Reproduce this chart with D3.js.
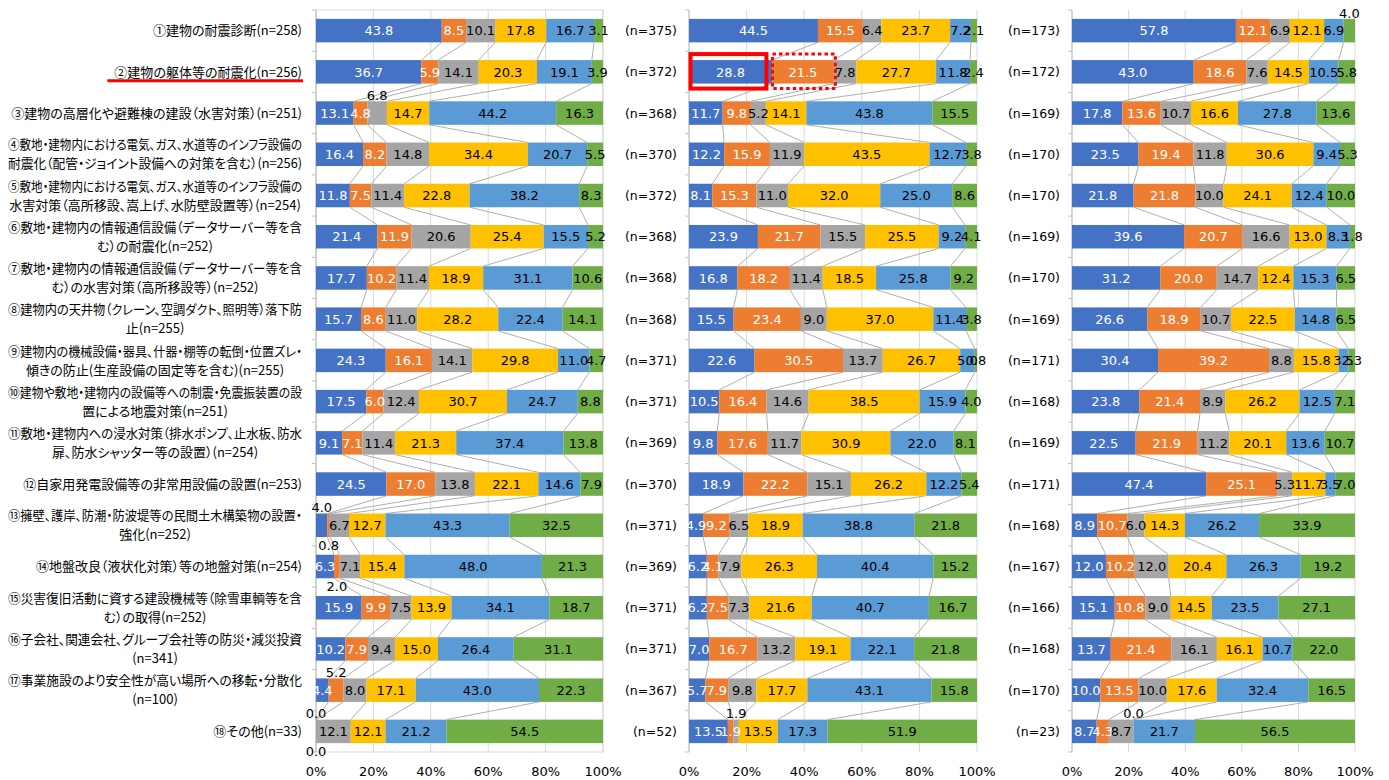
<!DOCTYPE html>
<html>
<head>
<meta charset="utf-8">
<script src="https://cdn.jsdelivr.net/npm/d3@7"></script>
<style>
    body { margin: 0; background: #fff; }
    svg text { font-family: "DejaVu Sans", "Noto Sans CJK JP", sans-serif; }
    .catLabel, .nLabel { font-family: "Noto Sans CJK JP", sans-serif; font-size: 13px; font-feature-settings: "palt"; fill: #000; }
    .nLabel { font-family: "DejaVu Sans", sans-serif; font-size: 12.5px; }
    .barLabel { font-size: 13px; }
    .tickLabel { font-size: 13px; fill: #000; }
</style>
</head>
<body>
<svg id="chart" width="1389" height="780"></svg>
<script>

// category labels (left of first panel), already wrapped as in the original
const categories = [
    ["①建物の耐震診断(n=258)"],
    ["②建物の躯体等の耐震化(n=256)"],
    ["③建物の高層化や避難棟の建設（水害対策）(n=251)"],
    ["④敷地・建物内における電気、ガス、水道等のインフラ設備の", "耐震化（配管・ジョイント設備への対策を含む）(n=256)"],
    ["⑤敷地・建物内における電気、ガス、水道等のインフラ設備の", "水害対策（高所移設、嵩上げ、水防壁設置等）(n=254)"],
    ["⑥敷地・建物内の情報通信設備（データサーバー等を含", "む）の耐震化(n=252)"],
    ["⑦敷地・建物内の情報通信設備（データサーバー等を含", "む）の水害対策（高所移設等）(n=252)"],
    ["⑧建物内の天井物（クレーン、空調ダクト、照明等）落下防", "止(n=255)"],
    ["⑨建物内の機械設備・器具、什器・棚等の転倒・位置ズレ・", "傾きの防止(生産設備の固定等を含む)(n=255)"],
    ["⑩建物や敷地・建物内の設備等への制震・免震振装置の設", "置による地震対策(n=251)"],
    ["⑪敷地・建物内への浸水対策（排水ポンプ、止水板、防水", "扉、防水シャッター等の設置）(n=254)"],
    ["⑫自家用発電設備等の非常用設備の設置(n=253)"],
    ["⑬擁壁、護岸、防潮・防波堤等の民間土木構築物の設置・", "強化(n=252)"],
    ["⑭地盤改良（液状化対策）等の地盤対策(n=254)"],
    ["⑮災害復旧活動に資する建設機械等（除雪車輌等を含", "む）の取得(n=252)"],
    ["⑯子会社、関連会社、グループ会社等の防災・減災投資", "(n=341)"],
    ["⑰事業施設のより安全性が高い場所への移転・分散化", "(n=100)"],
    ["⑱その他(n=33)"]
];

const nPanel2 = [375, 372, 368, 370, 372, 368, 368, 368, 371, 371, 369, 370, 371, 369, 371, 371, 367, 52];
const nPanel3 = [173, 172, 169, 170, 170, 169, 170, 169, 171, 168, 169, 171, 168, 167, 166, 168, 170, 23];

// six answer shares (%) per row
const panel1Values = [
    [43.8, 8.5, 10.1, 17.8, 16.7, 3.1],
    [36.7, 5.9, 14.1, 20.3, 19.1, 3.9],
    [13.1, 4.8, 6.8, 14.7, 44.2, 16.3],
    [16.4, 8.2, 14.8, 34.4, 20.7, 5.5],
    [11.8, 7.5, 11.4, 22.8, 38.2, 8.3],
    [21.4, 11.9, 20.6, 25.4, 15.5, 5.2],
    [17.7, 10.2, 11.4, 18.9, 31.1, 10.6],
    [15.7, 8.6, 11.0, 28.2, 22.4, 14.1],
    [24.3, 16.1, 14.1, 29.8, 11.0, 4.7],
    [17.5, 6.0, 12.4, 30.7, 24.7, 8.8],
    [9.1, 7.1, 11.4, 21.3, 37.4, 13.8],
    [24.5, 17.0, 13.8, 22.1, 14.6, 7.9],
    [4.0, 0.8, 6.7, 12.7, 43.3, 32.5],
    [6.3, 2.0, 7.1, 15.4, 48.0, 21.3],
    [15.9, 9.9, 7.5, 13.9, 34.1, 18.7],
    [10.2, 7.9, 9.4, 15.0, 26.4, 31.1],
    [4.4, 5.2, 8.0, 17.1, 43.0, 22.3],
    [0.0, 0.0, 12.1, 12.1, 21.2, 54.5]
];

const panel2Values = [
    [44.5, 15.5, 6.4, 23.7, 7.2, 2.1],
    [28.8, 21.5, 7.8, 27.7, 11.8, 2.4],
    [11.7, 9.8, 5.2, 14.1, 43.8, 15.5],
    [12.2, 15.9, 11.9, 43.5, 12.7, 3.8],
    [8.1, 15.3, 11.0, 32.0, 25.0, 8.6],
    [23.9, 21.7, 15.5, 25.5, 9.2, 4.1],
    [16.8, 18.2, 11.4, 18.5, 25.8, 9.2],
    [15.5, 23.4, 9.0, 37.0, 11.4, 3.8],
    [22.6, 30.5, 13.7, 26.7, 5.0, 0.8],
    [10.5, 16.4, 14.6, 38.5, 15.9, 4.0],
    [9.8, 17.6, 11.7, 30.9, 22.0, 8.1],
    [18.9, 22.2, 15.1, 26.2, 12.2, 5.4],
    [4.9, 9.2, 6.5, 18.9, 38.8, 21.8],
    [6.2, 4.1, 7.9, 26.3, 40.4, 15.2],
    [6.2, 7.5, 7.3, 21.6, 40.7, 16.7],
    [7.0, 16.7, 13.2, 19.1, 22.1, 21.8],
    [5.7, 7.9, 9.8, 17.7, 43.1, 15.8],
    [13.5, 1.9, 1.9, 13.5, 17.3, 51.9]
];

const panel3Values = [
    [57.8, 12.1, 6.9, 12.1, 6.9, 4.0],
    [43.0, 18.6, 7.6, 14.5, 10.5, 5.8],
    [17.8, 13.6, 10.7, 16.6, 27.8, 13.6],
    [23.5, 19.4, 11.8, 30.6, 9.4, 5.3],
    [21.8, 21.8, 10.0, 24.1, 12.4, 10.0],
    [39.6, 20.7, 16.6, 13.0, 8.3, 1.8],
    [31.2, 20.0, 14.7, 12.4, 15.3, 6.5],
    [26.6, 18.9, 10.7, 22.5, 14.8, 6.5],
    [30.4, 39.2, 8.8, 15.8, 3.5, 2.3],
    [23.8, 21.4, 8.9, 26.2, 12.5, 7.1],
    [22.5, 21.9, 11.2, 20.1, 13.6, 10.7],
    [47.4, 25.1, 5.3, 11.7, 3.5, 7.0],
    [8.9, 10.7, 6.0, 14.3, 26.2, 33.9],
    [12.0, 10.2, 12.0, 20.4, 26.3, 19.2],
    [15.1, 10.8, 9.0, 14.5, 23.5, 27.1],
    [13.7, 21.4, 16.1, 16.1, 10.7, 22.0],
    [10.0, 13.5, 10.0, 17.6, 32.4, 16.5],
    [8.7, 4.3, 8.7, 0.0, 21.7, 56.5]
];

const seriesKeys = [0, 1, 2, 3, 4, 5];
const xTicks = [0, 0.2, 0.4, 0.6, 0.8, 1];

// labels that were moved outside the bar in the original (panel, row, series)
const labelsAbove = [[0, 2, 2], [0, 12, 0], [0, 16, 1], [0, 17, 0], [1, 17, 2], [2, 0, 5], [2, 17, 3]];
const labelsBelow = [[0, 12, 1], [0, 13, 1], [0, 17, 1]];

/**********************
***** BASIC SETUP *****
**********************/

const svg = d3.select("#chart");
const colors = ["#4472C4", "#ED7D31", "#A5A5A5", "#FFC000", "#5B9BD5", "#70AD47"];
const labelColors = ["#fff", "#fff", "#000", "#000", "#000", "#000"];

const plotTop = 10, plotBottom = 752;
const panels = [
    {values: panel1Values, x0: 316, x1: 603, n: null},
    {values: panel2Values, x0: 689, x1: 977, n: nPanel2},
    {values: panel3Values, x0: 1072, x1: 1355, n: nPanel3}
];

const rows = d3.range(categories.length);
const yScale = d3.scaleBand()
    .domain(rows)
    .range([plotTop, plotBottom])
    .paddingInner(0.43)
    .paddingOuter(0.215);
const bw = yScale.bandwidth();
const fmt = d3.format(".1f");

const stack = d3.stack().keys(seriesKeys).offset(d3.stackOffsetExpand);

panels.forEach((p, pi) => {
    const xScale = d3.scaleLinear().domain([0, 1]).range([p.x0, p.x1]);
    const g = svg.append("g").attr("class", "panel" + pi);
    const stacked = stack(p.values);

    // gridlines
    g.selectAll(".grid")
        .data(xTicks)
        .enter()
        .append("line")
        .attr("x1", d => xScale(d)).attr("x2", d => xScale(d))
        .attr("y1", plotTop).attr("y2", plotBottom)
        .attr("stroke", "#D9D9D9").attr("stroke-width", 1);

    if (pi == 0) {
        g.append("rect")
            .attr("x", p.x0).attr("y", plotTop)
            .attr("width", p.x1 - p.x0).attr("height", plotBottom - plotTop)
            .attr("fill", "none").attr("stroke", "#D9D9D9");
    }

    // category axis line with ticks between rows
    g.append("line")
        .attr("x1", p.x0).attr("x2", p.x0)
        .attr("y1", plotTop).attr("y2", plotBottom)
        .attr("stroke", "#BFBFBF");
    g.selectAll(".ytick")
        .data(d3.range(categories.length + 1))
        .enter()
        .append("line")
        .attr("x1", p.x0 - 4).attr("x2", p.x0)
        .attr("y1", d => plotTop + d * yScale.step())
        .attr("y2", d => plotTop + d * yScale.step())
        .attr("stroke", "#BFBFBF");

    // series lines between consecutive bars
    const conn = [];
    for (let s = 0; s < 5; s++) {
        for (let r = 0; r < rows.length - 1; r++) {
            conn.push({
                xa: xScale(stacked[s][r][1]), ya: yScale(r) + bw,
                xb: xScale(stacked[s][r + 1][1]), yb: yScale(r + 1)
            });
        }
    }
    g.selectAll(".conn")
        .data(conn)
        .enter()
        .append("line")
        .attr("x1", d => d.xa).attr("y1", d => d.ya)
        .attr("x2", d => d.xb).attr("y2", d => d.yb)
        .attr("stroke", "#A6A6A6").attr("stroke-width", 0.9);

    // bars
    const layers = g.selectAll(".layer")
        .data(stacked)
        .enter()
        .append("g")
        .attr("fill", d => colors[d.key]);

    layers.selectAll("rect")
        .data(d => d)
        .enter()
        .append("rect")
        .attr("x", d => xScale(d[0]))
        .attr("y", (d, i) => yScale(i))
        .attr("width", d => xScale(d[1]) - xScale(d[0]))
        .attr("height", bw);

    // bar labels
    stacked.forEach((layer, s) => {
        layer.forEach((d, r) => {
            const above = labelsAbove.some(a => a[0] == pi && a[1] == r && a[2] == s);
            const below = labelsBelow.some(a => a[0] == pi && a[1] == r && a[2] == s);
            let y = yScale(r) + bw / 2;
            if (above) y = yScale(r) - 6;
            if (below) y = yScale(r) + bw + 8;
            g.append("text")
                .attr("class", "barLabel")
                .attr("x", xScale((d[0] + d[1]) / 2))
                .attr("y", y)
                .attr("dy", "0.36em")
                .attr("text-anchor", "middle")
                .attr("fill", (above || below) ? "#000" : labelColors[s])
                .text(fmt(p.values[r][s]));
        });
    });

    // x axis tick labels
    g.selectAll(".tickLabel")
        .data(xTicks)
        .enter()
        .append("text")
        .attr("class", "tickLabel")
        .attr("x", d => xScale(d))
        .attr("y", 771)
        .attr("dy", "0.36em")
        .attr("text-anchor", "middle")
        .text(d3.format(".0%"));

    // (n=...) labels for panels 2 and 3
    if (p.n) {
        g.selectAll(".nLabel")
            .data(p.n)
            .enter()
            .append("text")
            .attr("class", "nLabel")
            .attr("x", p.x0 - 12)
            .attr("y", (d, i) => yScale(i) + bw / 2)
            .attr("dy", "0.36em")
            .attr("text-anchor", "end")
            .text(d => `(n=${d})`);
    }

    // red emphasis boxes, second row of panel 2
    if (pi == 1) {
        const seg0 = stacked[0][1], seg1 = stacked[1][1];
        g.append("rect")
            .attr("x", xScale(seg0[0]) + 1.5)
            .attr("y", yScale(1) - 6)
            .attr("width", xScale(seg0[1]) - xScale(seg0[0]) - 7)
            .attr("height", bw + 11)
            .attr("fill", "none").attr("stroke", "#FF0000").attr("stroke-width", 4);
        g.append("rect")
            .attr("x", xScale(seg1[0]) + 0.5)
            .attr("y", yScale(1) - 6)
            .attr("width", xScale(seg1[1]) - xScale(seg1[0]) + 1)
            .attr("height", bw + 11)
            .attr("fill", "none").attr("stroke", "#FF0000").attr("stroke-width", 3)
            .attr("stroke-dasharray", "3.5,3");
    }
});

/*************************
***** CATEGORY LABELS *****
*************************/

const labelRight = 302;
const maxLabelW = 294;
const lineGap = 19;
const catG = svg.append("g").attr("id", "categories");

categories.forEach((lines, r) => {
    const texts = lines.map((t, li) => catG.append("text")
        .attr("class", "catLabel")
        .attr("y", yScale(r) + bw / 2 + (li - (lines.length - 1) / 2) * lineGap)
        .attr("dy", "0.36em")
        .attr("text-anchor", "middle")
        .text(t));
    let widths = texts.map(t => t.node().getComputedTextLength());
    // squeeze the few lines that would run past the left edge
    texts.forEach((t, i) => {
        if (widths[i] > maxLabelW) {
            t.attr("textLength", maxLabelW).attr("lengthAdjust", "spacingAndGlyphs");
            widths[i] = maxLabelW;
        }
    });
    const maxW = d3.max(widths);
    texts.forEach(t => t.attr("x", labelRight - maxW / 2));

    // red underline under the second item
    if (r == 1) {
        catG.append("line")
            .attr("x1", labelRight - maxW - 7).attr("x2", labelRight + 1)
            .attr("y1", yScale(r) + bw / 2 + 9).attr("y2", yScale(r) + bw / 2 + 9)
            .attr("stroke", "#FF0000").attr("stroke-width", 3);
    }
});

</script>
</body>
</html>
